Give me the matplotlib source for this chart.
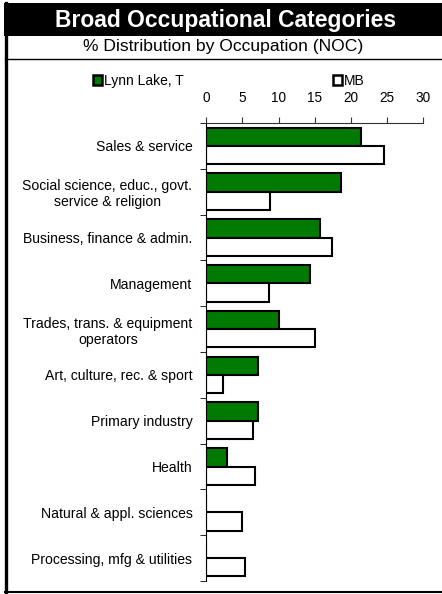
import matplotlib.pyplot as plt
import numpy as np
from matplotlib.patches import Rectangle, Patch
from matplotlib.lines import Line2D

plt.rcParams['font.family'] = ['Liberation Sans', 'DejaVu Sans']

categories = [
    'Sales & service',
    'Social science, educ., govt.\nservice & religion',
    'Business, finance & admin.',
    'Management',
    'Trades, trans. & equipment\noperators',
    'Art, culture, rec. & sport',
    'Primary industry',
    'Health',
    'Natural & appl. sciences',
    'Processing, mfg & utilities',
]
lynn_lake = [21.4, 18.6, 15.7, 14.3, 10.0, 7.2, 7.2, 2.9, 0.0, 0.0]
manitoba = [24.6, 8.8, 17.4, 8.6, 15.0, 2.3, 6.5, 6.8, 4.9, 5.4]
x_ticks = [0, 5, 10, 15, 20, 25, 30]

green = '#007A00'

fig = plt.figure(figsize=(4.42, 5.94), dpi=100)
W, H = 442, 594


def fx(px):
    return px / W


def fy(py):
    return 1 - py / H


# frame: title band, left border, separator, bottom line
fig.add_artist(Rectangle((fx(4), fy(36)), fx(438), 33 / H, transform=fig.transFigure,
                         facecolor='black', edgecolor='none'))
fig.add_artist(Line2D([fx(5.5), fx(5.5)], [fy(3), fy(592)], transform=fig.transFigure,
                      color='black', lw=2.4))
fig.add_artist(Line2D([fx(5), 1], [fy(59), fy(59)], transform=fig.transFigure,
                      color='black', lw=1))
fig.add_artist(Line2D([fx(5), 1], [fy(592), fy(592)], transform=fig.transFigure,
                      color='black', lw=1.5))

fig.text(fx(226), fy(20), 'Broad Occupational Categories', color='white',
         fontsize=16.5, fontweight='bold', ha='center', va='center')
fig.text(fx(223), fy(47), '% Distribution by Occupation (NOC)', color='black',
         fontsize=12.6, ha='center', va='center')

ax = fig.add_axes([206.3 / W, 1 - 581 / H, (423.3 - 206.3) / W, (581 - 123) / H])

y = np.arange(len(categories))
h = 0.4
ax.barh(y - h / 2, lynn_lake, height=h, color=green, edgecolor='black', linewidth=1.5)
ax.barh(y + h / 2, manitoba, height=h, color='white', edgecolor='black', linewidth=1.5)

ax.set_xlim(0, 30)
ax.set_ylim(len(categories) - 0.5, -0.5)
ax.xaxis.tick_top()
ax.set_xticks(x_ticks)
ax.tick_params(axis='x', direction='out', length=4, pad=9, labelsize=9.8, color='#333333')

ax.set_yticks(y)
ax.set_yticklabels(categories, fontsize=10.1, multialignment='center')
ax.tick_params(axis='y', which='major', length=0, pad=10)
ax.set_yticks(np.arange(len(categories) + 1) - 0.5, minor=True)
ax.tick_params(axis='y', which='minor', direction='out', length=4, color='black')

for s in ['right', 'bottom']:
    ax.spines[s].set_visible(False)
ax.spines['left'].set_color('black')
ax.spines['top'].set_color('#333333')

h1 = Patch(facecolor=green, edgecolor='black', linewidth=1.8)
h2 = Patch(facecolor='white', edgecolor='black', linewidth=1.8)
leg_kw = dict(frameon=False, fontsize=10, handlelength=0.65, handleheight=0.65,
              handletextpad=0.15, borderpad=0, borderaxespad=0, loc='center left')
fig.legend([h1], ['Lynn Lake, T'], bbox_to_anchor=(fx(93), fy(81)), **leg_kw)
fig.legend([h2], ['MB'], bbox_to_anchor=(fx(333), fy(81)), **leg_kw)

fig.savefig('out.png', dpi=100)
